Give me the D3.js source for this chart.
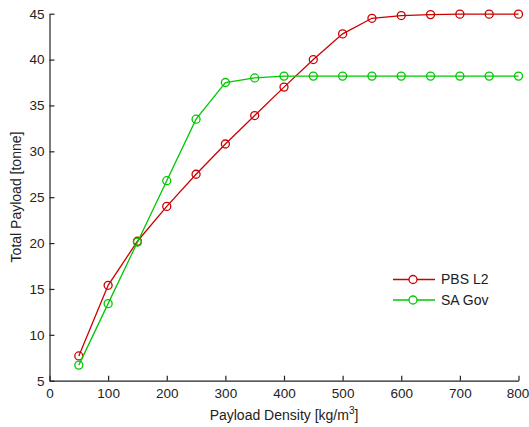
<!DOCTYPE html>
<html><head><meta charset="utf-8">
<script src="https://cdn.jsdelivr.net/npm/d3@7"></script>
<style>
body{margin:0;background:#fff;}
svg{display:block;font-family:"Liberation Sans",Arial,sans-serif;}
</style></head>
<body>
<svg id="chart" width="529" height="427"></svg>
<script>
const densities = [50,100,150,200,250,300,350,400,450,500,550,600,650,700,750,800];
const pbsL2 = [7.7,15.4,20.2,24.0,27.5,30.8,33.9,37.0,40.0,42.8,44.5,44.8,44.9,44.95,44.95,44.95];
const saGov = [6.7,13.4,20.1,26.8,33.5,37.5,38.0,38.2,38.2,38.2,38.2,38.2,38.2,38.2,38.2,38.2];
const xTicks = [0,100,200,300,400,500,600,700,800];
const yTicks = [5,10,15,20,25,30,35,40,45];
const seriesNames = ["PBS L2","SA Gov"];
const seriesColors = ["#cc0000","#00c800"];

const svg = d3.select("#chart");
const x = d3.scaleLinear().domain([0,800]).range([49.5,518.5]);
const y = d3.scaleLinear().domain([5,45]).range([380.7,13.7]);

const xAxis = svg.append("g").attr("transform","translate(0,380.7)")
  .call(d3.axisBottom(x).tickValues(xTicks).tickSizeInner(-5).tickSizeOuter(0).tickPadding(8));
const yAxis = svg.append("g").attr("transform","translate(49.5,0)")
  .call(d3.axisLeft(y).tickValues(yTicks).tickSizeInner(-5).tickSizeOuter(0).tickPadding(5));
[xAxis,yAxis].forEach(a=>{
  a.selectAll("text").attr("font-size","13.5px").attr("fill","#222").style("font-family","Liberation Sans, Arial, sans-serif");
  a.selectAll("line,path").attr("stroke","#222").attr("stroke-width",1.2);
});
xAxis.selectAll(".tick text").filter(d=>d===800).attr("text-anchor","end").attr("x",10.3);

const data = [pbsL2, saGov];
const line = d3.line().x((d,i)=>x(densities[i])).y(d=>y(d));
data.forEach((vals,k)=>{
  svg.append("path").datum(vals).attr("d",line).attr("fill","none")
    .attr("stroke",seriesColors[k]).attr("stroke-width",1.3);
  svg.append("g").selectAll("circle").data(vals).join("circle")
    .attr("cx",(d,i)=>x(densities[i])).attr("cy",d=>y(d)).attr("r",4)
    .attr("fill","none").attr("stroke",seriesColors[k]).attr("stroke-width",1.3);
});

// legend
const leg = svg.append("g");
seriesNames.forEach((n,k)=>{
  const ly = 279.5 + k*20.5;
  leg.append("line").attr("x1",393).attr("x2",435).attr("y1",ly).attr("y2",ly)
    .attr("stroke",seriesColors[k]).attr("stroke-width",1.3);
  leg.append("circle").attr("cx",413).attr("cy",ly).attr("r",4).attr("fill","#fff")
    .attr("stroke",seriesColors[k]).attr("stroke-width",1.3);
  leg.append("text").attr("x",441).attr("y",ly).attr("dy","0.35em")
    .attr("font-size","14px").attr("fill","#222").text(n);
});

// axis labels
const xl = svg.append("text").attr("x",284).attr("y",420).attr("text-anchor","middle")
  .attr("font-size","14px").attr("fill","#222");
xl.append("tspan").text("Payload Density [kg/m");
xl.append("tspan").attr("dy","-6").attr("font-size","10px").text("3");
xl.append("tspan").attr("dy","6").text("]");

svg.append("text").attr("transform","translate(21,197) rotate(-90)")
  .attr("text-anchor","middle").attr("font-size","14px").attr("fill","#222")
  .text("Total Payload [tonne]");
</script>
</body></html>
